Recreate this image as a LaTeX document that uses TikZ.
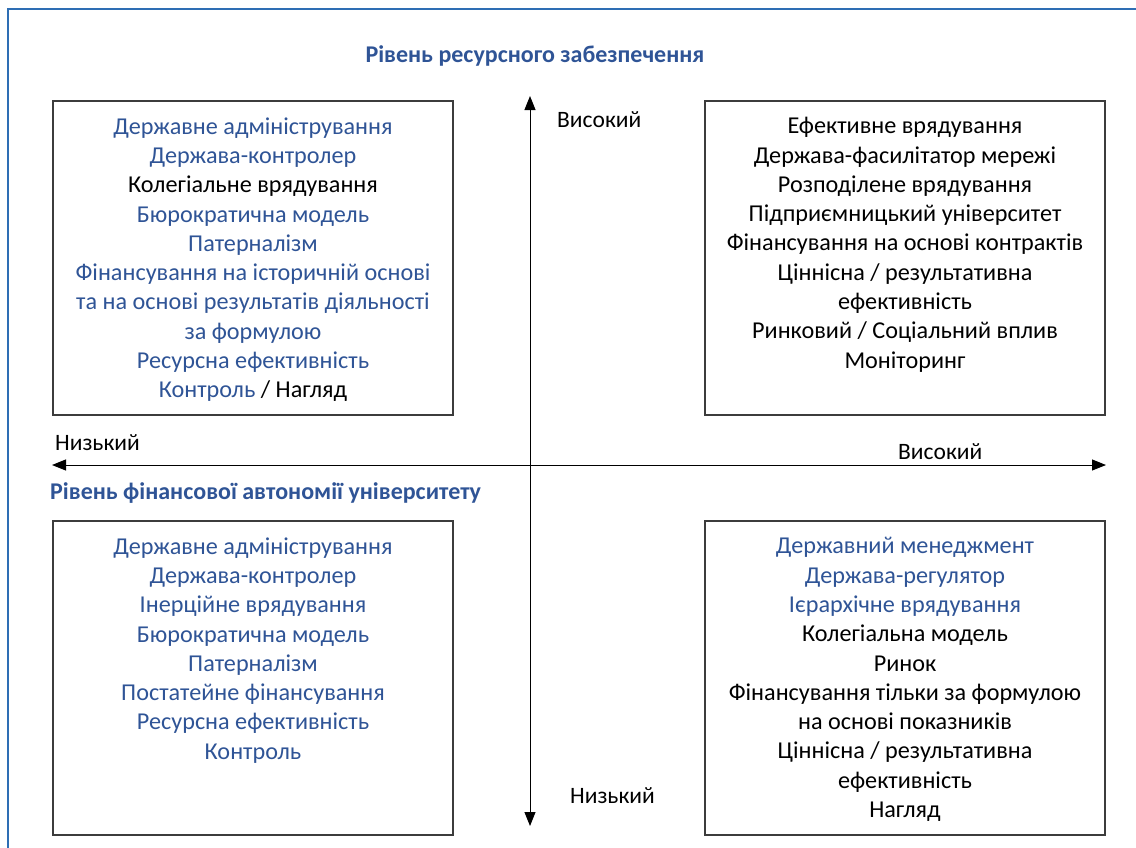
\documentclass[tikz,border=0pt]{standalone}
\usepackage{fontspec}
\setmainfont{Carlito}
\usepackage{xcolor}
\usetikzlibrary{arrows.meta}
\definecolor{hblue}{RGB}{47,84,150}
\definecolor{frameblue}{RGB}{46,110,180}
\definecolor{boxgray}{RGB}{60,60,60}
\newcommand\hb[1]{\textcolor{hblue}{#1}}
\tikzstyle{quad}=[draw=boxgray,line width=1.5pt,minimum width=400pt,minimum height=314pt,inner sep=0pt]
\tikzstyle{qtext}=[anchor=north,align=center,inner sep=0pt,font=\fontsize{24.2}{29.3}\selectfont]
\tikzstyle{lbl}=[anchor=base west,inner sep=0pt,font=\fontsize{23.5}{26}\selectfont]
\tikzstyle{ttl}=[inner sep=0pt,text=hblue,font=\fontsize{24}{26}\selectfont\bfseries]
\tikzstyle{axis}=[line width=1pt,{Triangle[length=14pt,width=11pt]}-{Triangle[length=14pt,width=11pt]}]

\begin{document}
\begin{tikzpicture}[x=1pt,y=-1pt]
	\useasboundingbox (0,0) rectangle (1136,847);
	\draw[frameblue,line width=1.5pt] (1140,9) -- (8,9) -- (8,850);

	\node[ttl,anchor=base] (ttop) at (535,62) {Рівень ресурсного забезпечення};
	\node[ttl,anchor=base west] (tleft) at (50,499) {Рівень фінансової автономії університету};

	\node[quad] (tl) at (253,258) {};
	\node[quad] (tr) at (905,258) {};
	\node[quad] (bl) at (253,678) {};
	\node[quad] (br) at (905,678) {};

	\node[qtext] (tltext) at ([yshift=-17pt]tl.north) {\hb{Державне адміністрування}\\ \hb{Держава-контролер}\\ Колегіальне врядування\\ \hb{Бюрократична модель}\\ \hb{Патерналізм}\\ \hb{Фінансування на історичній основі}\\ \hb{та на основі результатів діяльності}\\ \hb{за формулою}\\ \hb{Ресурсна ефективність}\\ \hb{Контроль} / Нагляд};
	\node[qtext] (trtext) at ([yshift=-17pt]tr.north) {Ефективне врядування\\ Держава-фасилітатор мережі\\ Розподілене врядування\\ Підприємницький університет\\ Фінансування на основі контрактів\\ Ціннісна / результативна\\ ефективність\\ Ринковий / Соціальний вплив\\ Моніторинг};
	\node[qtext] (bltext) at ([yshift=-17pt]bl.north) {\hb{Державне адміністрування}\\ \hb{Держава-контролер}\\ \hb{Інерційне врядування}\\ \hb{Бюрократична модель}\\ \hb{Патерналізм}\\ \hb{Постатейне фінансування}\\ \hb{Ресурсна ефективність}\\ \hb{Контроль}};
	\node[qtext] (brtext) at ([yshift=-17pt]br.north) {\hb{Державний менеджмент}\\ \hb{Держава-регулятор}\\ \hb{Ієрархічне врядування}\\ Колегіальна модель\\ Ринок\\ Фінансування тільки за формулою\\ на основі показників\\ Ціннісна / результативна\\ ефективність\\ Нагляд};

	% axes
	\coordinate (vtop) at (530,96);
	\coordinate (vbot) at (530,826);
	\coordinate (hleft) at (52,465);
	\coordinate (hright) at (1106,465);
	\draw[axis] (vbot) -- (vtop);
	\draw[axis] (hleft) -- (hright);

	\node[lbl] (vhigh) at (557,127) {Високий};
	\node[lbl] (vlow) at (570,803) {Низький};
	\node[lbl] (hlow) at (55,450) {Низький};
	\node[lbl] (hhigh) at (898,459) {Високий};
\end{tikzpicture}
\end{document}
